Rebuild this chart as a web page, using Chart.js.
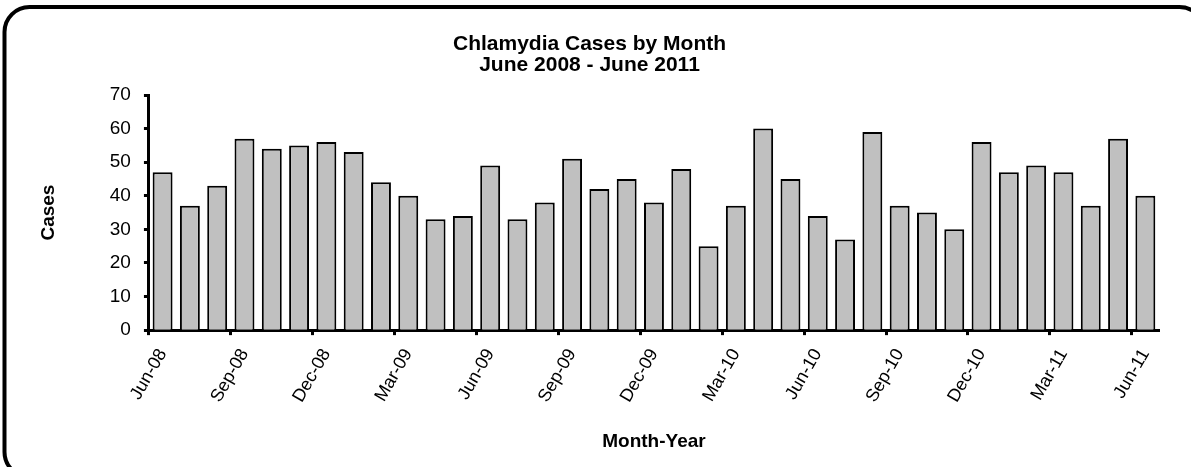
<!DOCTYPE html>
<html>
<head>
<meta charset="utf-8">
<script src="https://cdn.jsdelivr.net/npm/chart.js@4.4.1/dist/chart.umd.min.js"></script>
<style>
  html, body { margin: 0; padding: 0; background: #fff; }
  canvas { display: block; }
</style>
</head>
<body>
<canvas id="myChart" width="1191" height="467"></canvas>
<script>
// monthly counts, Jun-08 .. Jun-11
const months = [
    'Jun-08', 'Jul-08', 'Aug-08', 'Sep-08', 'Oct-08', 'Nov-08', 'Dec-08', 'Jan-09', 'Feb-09', 'Mar-09',
    'Apr-09', 'May-09', 'Jun-09', 'Jul-09', 'Aug-09', 'Sep-09', 'Oct-09', 'Nov-09', 'Dec-09', 'Jan-10',
    'Feb-10', 'Mar-10', 'Apr-10', 'May-10', 'Jun-10', 'Jul-10', 'Aug-10', 'Sep-10', 'Oct-10', 'Nov-10',
    'Dec-10', 'Jan-11', 'Feb-11', 'Mar-11', 'Apr-11', 'May-11', 'Jun-11'
];
const cases = [
    47, 37, 43, 57, 54, 55, 56, 53, 44, 40,
    33, 34, 49, 33, 38, 51, 42, 45, 38, 48,
    25, 37, 60, 45, 34, 27, 59, 37, 35, 30,
    56, 47, 49, 47, 37, 57, 40
];
const titleLines = ['Chlamydia Cases by Month', 'June 2008 - June 2011'];

// rounded frame round the whole chart
const frame = {
    id: 'frame',
    beforeDraw(chart) {
        const c = chart.ctx;
        c.save();
        c.fillStyle = '#fff';
        c.fillRect(0, 0, chart.width, chart.height);
        c.strokeStyle = '#000';
        c.lineWidth = 4;
        c.beginPath();
        c.roundRect(4.5, 7, 1200, 470, 25);
        c.stroke();
        c.restore();
    }
};

const ctx = document.getElementById('myChart').getContext('2d');
const myChart = new Chart(ctx, {
    type: 'bar',
    data: {
        labels: months,
        datasets: [{
            label: 'Cases',
            data: cases,
            backgroundColor: '#c0c0c0',
            borderColor: '#000',
            borderWidth: 2,
            barPercentage: 0.73,
            categoryPercentage: 1
        }]
    },
    options: {
        responsive: false,
        animation: false,
        layout: {
            padding: { left: 20, right: 32, top: 0, bottom: 14 }
        },
        plugins: {
            legend: { display: false },
            tooltip: { enabled: false },
            title: {
                display: true,
                text: titleLines,
                color: '#000',
                font: { family: 'Arial, "Liberation Sans"', size: 21, weight: 'bold', lineHeight: 1 },
                padding: { top: 34, bottom: 19 }
            }
        },
        scales: {
            x: {
                offset: true,
                grid: {
                    offset: true,
                    drawOnChartArea: false,
                    tickLength: 5,
                    tickWidth: 3,
                    tickColor: (c) => c.index % 3 === 0 ? '#000' : 'rgba(0,0,0,0)'
                },
                border: { color: '#000', width: 3 },
                ticks: {
                    autoSkip: false,
                    maxRotation: 60,
                    minRotation: 60,
                    padding: 10,
                    color: '#000',
                    font: { family: 'Arial, "Liberation Sans"', size: 18 },
                    callback: function (val, i) {
                        return i % 3 === 0 ? this.getLabelForValue(val) : '';
                    }
                },
                title: {
                    display: true,
                    text: 'Month-Year',
                    color: '#000',
                    font: { family: 'Arial, "Liberation Sans"', size: 19, weight: 'bold' },
                    padding: { top: 14, bottom: 0 }
                }
            },
            y: {
                min: 0,
                max: 70,
                ticks: {
                    stepSize: 10,
                    padding: 13,
                    color: '#000',
                    font: { family: 'Arial, "Liberation Sans"', size: 19 }
                },
                grid: {
                    drawOnChartArea: false,
                    tickLength: 5,
                    tickWidth: 3,
                    tickColor: '#000'
                },
                border: { color: '#000', width: 3 },
                title: {
                    display: true,
                    text: 'Cases',
                    color: '#000',
                    font: { family: 'Arial, "Liberation Sans"', size: 19, weight: 'bold' },
                    padding: { top: 17, bottom: 37 }
                }
            }
        }
    },
    plugins: [frame]
});
</script>
</body>
</html>
